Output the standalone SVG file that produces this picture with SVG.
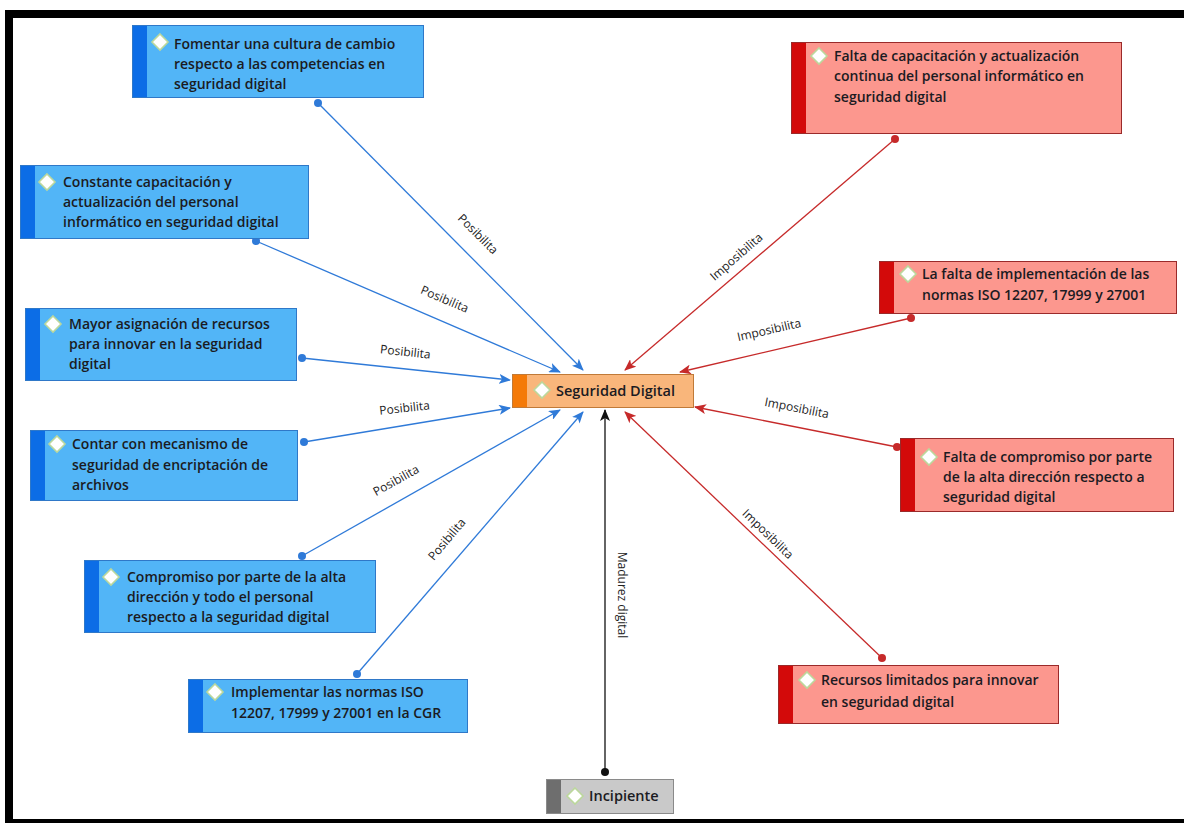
<svg xmlns="http://www.w3.org/2000/svg" width="1184" height="823" viewBox="0 0 1184 823">
<defs>
<style>
.t{font-family:"Open Sans","Noto Sans","Liberation Sans",sans-serif;font-size:14px;font-weight:600;fill:#1b1b22}
.lb{font-family:"Open Sans","Noto Sans","Liberation Sans",sans-serif;font-size:12px;fill:#222}
.bl{fill:#52b5f7;stroke:#2f78c8;stroke-width:1}
.blb{fill:#0c6de6}
.rd{fill:#fc978e;stroke:#9a2a2a;stroke-width:1}
.rdb{fill:#d30a0a}
.dia{fill:#fff;stroke:#bcd89c;stroke-width:1.6}
.cb{stroke:#2f7ad8;stroke-width:1.3;fill:none}
.cr{stroke:#c62a2a;stroke-width:1.3;fill:none}
.ck{stroke:#111;stroke-width:1.3;fill:none}
</style>
<marker id="ab" viewBox="0 0 12 10" refX="11" refY="5" markerWidth="12" markerHeight="10" markerUnits="userSpaceOnUse" orient="auto"><path d="M0,0 L12,5 L0,10 L3,5 z" fill="#2f7ad8"/></marker>
<marker id="ar" viewBox="0 0 12 10" refX="11" refY="5" markerWidth="12" markerHeight="10" markerUnits="userSpaceOnUse" orient="auto"><path d="M0,0 L12,5 L0,10 L3,5 z" fill="#c62a2a"/></marker>
<marker id="ak" viewBox="0 0 12 10" refX="11" refY="5" markerWidth="12" markerHeight="10" markerUnits="userSpaceOnUse" orient="auto"><path d="M0,0 L12,5 L0,10 L3,5 z" fill="#111"/></marker>
</defs>
<rect x="0" y="0" width="1184" height="823" fill="#fff"/>
<g id="frame">
<rect x="5" y="10" width="1179" height="8" fill="#000"/>
<rect x="5" y="10" width="8" height="813" fill="#000"/>
<rect x="5" y="819" width="1179" height="4" fill="#000"/>
</g>
<g id="connectors">
<g class="cb">
<path d="M318,103 L583,370" marker-end="url(#ab)"/>
<path d="M256,241 L560,372" marker-end="url(#ab)"/>
<path d="M302,358 L510,380" marker-end="url(#ab)"/>
<path d="M304,442 L510,408" marker-end="url(#ab)"/>
<path d="M302,556 L560,410" marker-end="url(#ab)"/>
<path d="M357,674 L583,412" marker-end="url(#ab)"/>
</g>
<g fill="#2f7ad8">
<circle cx="318" cy="103" r="4"/><circle cx="256" cy="241" r="4"/><circle cx="302" cy="358" r="4"/>
<circle cx="304" cy="442" r="4"/><circle cx="302" cy="556" r="4"/><circle cx="357" cy="674" r="4"/>
</g>
<g class="cr">
<path d="M895,139 L625,370" marker-end="url(#ar)"/>
<path d="M911,318 L680,372" marker-end="url(#ar)"/>
<path d="M897,447 L695,407" marker-end="url(#ar)"/>
<path d="M882,658 L625,412" marker-end="url(#ar)"/>
</g>
<g fill="#c62a2a">
<circle cx="895" cy="139" r="4"/><circle cx="911" cy="318" r="4"/><circle cx="897" cy="447" r="4"/><circle cx="882" cy="658" r="4"/>
</g>
<path class="ck" d="M605,772 L605,410" marker-end="url(#ak)"/>
<circle cx="605" cy="772" r="4" fill="#111"/>
<g class="lb" text-anchor="middle">
<text transform="translate(475,237) rotate(45)">Posibilita</text>
<text transform="translate(443,303) rotate(23)">Posibilita</text>
<text transform="translate(405,356) rotate(6)">Posibilita</text>
<text transform="translate(405,412) rotate(-6)">Posibilita</text>
<text transform="translate(398,484) rotate(-29)">Posibilita</text>
<text transform="translate(450,542) rotate(-50)">Posibilita</text>
<text transform="translate(739,260) rotate(-41)">Imposibilita</text>
<text transform="translate(770,334) rotate(-13)">Imposibilita</text>
<text transform="translate(796,412) rotate(11)">Imposibilita</text>
<text transform="translate(765,537) rotate(44)">Imposibilita</text>
<text transform="translate(618,595) rotate(90)">Madurez digital</text>
</g>
</g>
<g id="n-fomentar">
<rect class="bl" x="132.5" y="25.5" width="291" height="72"/><rect class="blb" x="133" y="26" width="14" height="71"/>
<path class="dia" d="M160,34 L168,42 L160,50 L152,42 z"/>
<text class="t"><tspan x="174" y="49">Fomentar una cultura de cambio</tspan><tspan x="174" y="69">respecto a las competencias en</tspan><tspan x="174" y="89">seguridad digital</tspan></text>
</g>
<g id="n-constante">
<rect class="bl" x="20.5" y="165.5" width="288" height="73"/><rect class="blb" x="21" y="166" width="14" height="72"/>
<path class="dia" d="M47,174 L55,182 L47,190 L39,182 z"/>
<text class="t"><tspan x="63" y="187">Constante capacitación y</tspan><tspan x="63" y="207">actualización del personal</tspan><tspan x="63" y="227">informático en seguridad digital</tspan></text>
</g>
<g id="n-mayor">
<rect class="bl" x="25.5" y="308.5" width="271" height="72"/><rect class="blb" x="26" y="309" width="14" height="71"/>
<path class="dia" d="M53,316 L61,324 L53,332 L45,324 z"/>
<text class="t"><tspan x="69" y="329">Mayor asignación de recursos</tspan><tspan x="69" y="349">para innovar en la seguridad</tspan><tspan x="69" y="369">digital</tspan></text>
</g>
<g id="n-contar">
<rect class="bl" x="30.5" y="430.5" width="267" height="70"/><rect class="blb" x="31" y="431" width="14" height="69"/>
<path class="dia" d="M57,436 L65,444 L57,452 L49,444 z"/>
<text class="t"><tspan x="72" y="449">Contar con mecanismo de</tspan><tspan x="72" y="470">seguridad de encriptación de</tspan><tspan x="72" y="490">archivos</tspan></text>
</g>
<g id="n-compromiso">
<rect class="bl" x="84.5" y="560.5" width="291" height="72"/><rect class="blb" x="85" y="561" width="14" height="71"/>
<path class="dia" d="M111,569 L119,577 L111,585 L103,577 z"/>
<text class="t"><tspan x="127" y="582">Compromiso por parte de la alta</tspan><tspan x="127" y="602">dirección y todo el personal</tspan><tspan x="127" y="622">respecto a la seguridad digital</tspan></text>
</g>
<g id="n-implementar">
<rect class="bl" x="188.5" y="679.5" width="279" height="53"/><rect class="blb" x="189" y="680" width="14" height="52"/>
<path class="dia" d="M215,684 L223,692 L215,700 L207,692 z"/>
<text class="t"><tspan x="231" y="697">Implementar las normas ISO</tspan><tspan x="231" y="718">12207, 17999 y 27001 en la CGR</tspan></text>
</g>
<g id="n-falta-cap">
<rect class="rd" x="791.5" y="42.5" width="330" height="91"/><rect class="rdb" x="792" y="43" width="14" height="90"/>
<path class="dia" d="M819,48 L827,56 L819,64 L811,56 z"/>
<text class="t"><tspan x="834" y="61">Falta de capacitación y actualización</tspan><tspan x="834" y="81">continua del personal informático en</tspan><tspan x="834" y="102">seguridad digital</tspan></text>
</g>
<g id="n-falta-impl">
<rect class="rd" x="879.5" y="261.5" width="297" height="52"/><rect class="rdb" x="880" y="262" width="14" height="51"/>
<path class="dia" d="M908,266 L916,274 L908,282 L900,274 z"/>
<text class="t"><tspan x="922" y="279">La falta de implementación de las</tspan><tspan x="922" y="300">normas ISO 12207, 17999 y 27001</tspan></text>
</g>
<g id="n-falta-comp">
<rect class="rd" x="900.5" y="438.5" width="273" height="73"/><rect class="rdb" x="901" y="439" width="14" height="72"/>
<path class="dia" d="M929,449 L937,457 L929,465 L921,457 z"/>
<text class="t"><tspan x="943" y="462">Falta de compromiso por parte</tspan><tspan x="943" y="482">de la alta dirección respecto a</tspan><tspan x="943" y="502">seguridad digital</tspan></text>
</g>
<g id="n-recursos">
<rect class="rd" x="778.5" y="665.5" width="280" height="58"/><rect class="rdb" x="779" y="666" width="14" height="57"/>
<path class="dia" d="M807,672 L815,680 L807,688 L799,680 z"/>
<text class="t"><tspan x="821" y="685">Recursos limitados para innovar</tspan><tspan x="821" y="707">en seguridad digital</tspan></text>
</g>
<g id="n-seguridad">
<rect x="512.5" y="374.5" width="181" height="33" fill="#f9b67b" stroke="#c07a38"/><rect x="513" y="375" width="14" height="32" fill="#f47a08"/>
<path class="dia" d="M542,382 L550,390 L542,398 L534,390 z"/>
<text class="t" x="556" y="396" style="font-size:14.5px">Seguridad Digital</text>
</g>
<g id="n-incipiente">
<rect x="546.5" y="779.5" width="127" height="34" fill="#c9c9c9" stroke="#8a8a8a"/><rect x="547" y="780" width="14" height="33" fill="#6e6e6e"/>
<path class="dia" d="M575,788 L583,796 L575,804 L567,796 z"/>
<text class="t" x="589" y="801" style="font-size:14.5px">Incipiente</text>
</g>
</svg>
